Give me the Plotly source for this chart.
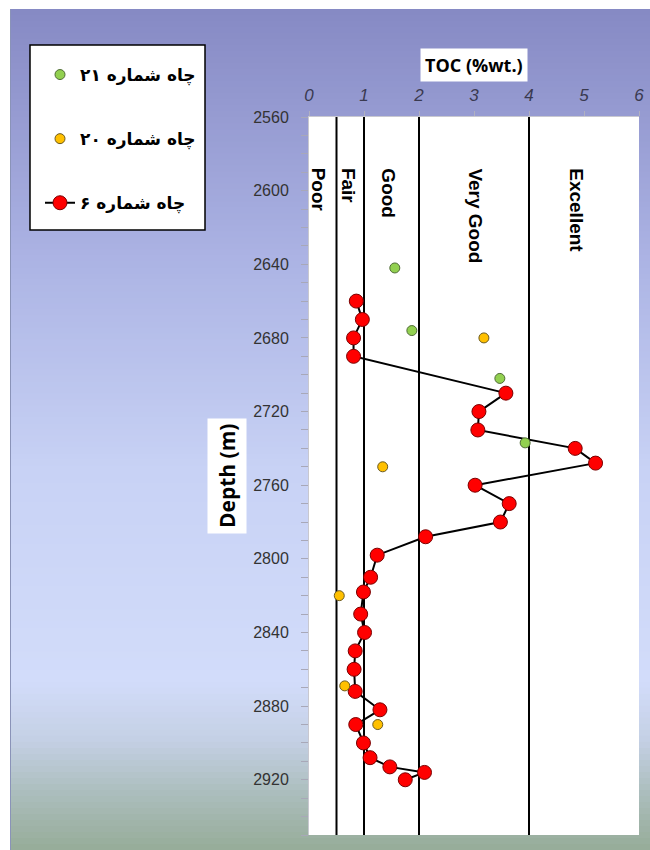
import numpy as np
import plotly.graph_objects as go

# Well 6 TOC profile
well6_depth = [2660, 2670, 2680, 2690, 2710, 2720, 2730, 2740, 2748, 2760, 2770, 2780,
               2788, 2798, 2810, 2818, 2830, 2840, 2850, 2860, 2872, 2882, 2890, 2900,
               2908, 2913, 2916, 2920]
well6_toc = [0.86, 0.97, 0.81, 0.81, 3.58, 3.09, 3.07, 4.84, 5.21, 3.02, 3.64, 3.48,
             2.12, 1.24, 1.12, 0.99, 0.94, 1.01, 0.84, 0.82, 0.84, 1.29, 0.85, 0.99,
             1.11, 1.47, 2.10, 1.75]

# Well 21 samples
well21_depth = [2642, 2676, 2702, 2737]
well21_toc = [1.56, 1.87, 3.47, 3.93]

# Well 20 samples
well20_depth = [2680, 2750, 2820, 2869, 2890]
well20_toc = [3.18, 1.34, 0.55, 0.65, 1.25]

# Source-rock quality classes (TOC boundaries)
class_bounds = [0.5, 1, 2, 4]
class_names = ["Poor", "Fair", "Good", "Very Good", "Excellent"]

x_ticks = [0, 1, 2, 3, 4, 5, 6]
y_label_ticks = [2560, 2600, 2640, 2680, 2720, 2760, 2800, 2840, 2880, 2920]
y_minor_step = 10

W, H = 650, 850
ml, mr, mt, mb = 309, 11, 117, 15
pw, ph = W - ml - mr, H - mt - mb


def px_x(p):
    return (p - ml) / pw


def px_y(p):
    return (H - mb - p) / ph


fig = go.Figure()
fig.add_trace(go.Scatter(
    x=well6_toc, y=well6_depth, mode="lines+markers", name="چاه شماره ۶",
    line=dict(color="black", width=2),
    marker=dict(size=14, color="#ff0000", line=dict(color="#7a0000", width=1)),
    legendrank=3,
))
fig.add_trace(go.Scatter(
    x=well20_toc, y=well20_depth, mode="markers", name="چاه شماره ۲۰",
    marker=dict(size=10, color="#ffc000", line=dict(color="#6b5a20", width=1)),
    legendrank=2,
))
fig.add_trace(go.Scatter(
    x=well21_toc, y=well21_depth, mode="markers", name="چاه شماره ۲۱",
    marker=dict(size=10, color="#92d050", line=dict(color="#4f6b35", width=1)),
    legendrank=1,
))
for i, tr in enumerate(fig.data):
    tr.legendgroup = f"g{i}"

# Background: white frame on top/left, vertical colour gradient elsewhere
stops = [(0.00, (134, 137, 196)), (0.30, (172, 180, 228)), (0.55, (200, 210, 245)),
         (0.80, (210, 220, 250)), (0.87, (196, 208, 228)), (0.93, (172, 190, 190)),
         (1.00, (150, 172, 152))]
pos = [s[0] for s in stops]
shapes = []
top_px, left_px = 9, 10
n_bands = 140
for i in range(n_bands):
    t = (i + 0.5) / n_bands
    rgb = [int(round(np.interp(t, pos, [s[1][k] for s in stops]))) for k in range(3)]
    y0 = top_px + (H - top_px) * i / n_bands
    y1 = min(H, top_px + (H - top_px) * (i + 1) / n_bands + 0.8)
    shapes.append(dict(type="rect", xref="paper", yref="paper", layer="below",
                       x0=px_x(left_px), x1=px_x(W), y0=px_y(y1), y1=px_y(y0),
                       line=dict(width=0), fillcolor=f"rgb({rgb[0]},{rgb[1]},{rgb[2]})"))
shapes.append(dict(type="line", xref="paper", yref="paper", layer="below",
                   x0=px_x(left_px + 0.5), x1=px_x(left_px + 0.5), y0=px_y(H), y1=px_y(top_px),
                   line=dict(width=1, color="#8a93b8")))

# Legend frame
shapes.append(dict(type="rect", xref="paper", yref="paper", layer="below",
                   x0=px_x(30), x1=px_x(205), y0=px_y(230), y1=px_y(45),
                   line=dict(width=1.5, color="black"), fillcolor="white"))

# White plotting area
shapes.append(dict(type="rect", xref="x domain", yref="y domain", layer="below",
                   x0=0, x1=1, y0=0, y1=1, line=dict(width=0), fillcolor="white"))
# Class boundary lines
for b in class_bounds:
    shapes.append(dict(type="line", xref="x", yref="y domain", layer="below",
                       x0=b, x1=b, y0=0, y1=1, line=dict(color="black", width=2)))

annotations = []
class_label_toc = [0.17, 0.72, 1.43, 3.02, 4.85]
for name, xv in zip(class_names, class_label_toc):
    annotations.append(dict(x=xv, y=px_y(166), xref="x", yref="paper",
                            text=f"<b>{name}</b>", textangle=90, showarrow=False,
                            xanchor="center", yanchor="top",
                            font=dict(family="Liberation Sans", size=19, color="black")))

annotations.append(dict(x=0.5, y=px_y(65), xref="x domain", yref="paper",
                        text="<b>TOC (%wt.)</b>", showarrow=False, bgcolor="white",
                        borderpad=4, xanchor="center", yanchor="middle",
                        font=dict(family="Open Sans", size=18, color="black")))
annotations.append(dict(x=px_x(227), xref="paper", y=0.5, yref="y domain",
                        text="<b>Depth (m)</b>", textangle=-90, showarrow=False,
                        bgcolor="white", borderpad=5, xanchor="center", yanchor="middle",
                        font=dict(family="Open Sans", size=21, color="black")))

y_all = list(range(y_label_ticks[0], 2951, y_minor_step))

fig.update_layout(
    width=W, height=H,
    margin=dict(l=ml, r=mr, t=mt, b=mb, autoexpand=False),
    paper_bgcolor="white", plot_bgcolor="white",
    shapes=shapes, annotations=annotations,
    showlegend=True,
    legend=dict(xref="container", yref="container", x=40 / W, y=1 - 57 / H,
                xanchor="left", yanchor="top", bgcolor="rgba(0,0,0,0)",
                borderwidth=0, tracegroupgap=39, traceorder="grouped",
                itemwidth=30,
                font=dict(family="DejaVu Sans", size=17, color="black", weight="bold")),
    xaxis=dict(side="top", range=[0, 6], tickmode="array", tickvals=x_ticks,
               ticks="outside", ticklen=5, tickcolor="#b0b0c0", showgrid=False,
               zeroline=False, showline=True, linecolor="#c8c8d0",
               ticklabelstandoff=3, automargin=False,
               tickfont=dict(family="Liberation Sans", size=17, color="#3a3a50",
                             style="italic")),
    yaxis=dict(range=[2950, 2560], tickmode="array", tickvals=y_all,
               ticktext=[str(v) if v in y_label_ticks else "" for v in y_all],
               ticks="outside", ticklen=7, tickcolor="#a8a8b8", showgrid=False,
               zeroline=False, showline=True, linecolor="#c8c8d0",
               ticklabelstandoff=9, automargin=False,
               tickfont=dict(family="Liberation Sans", size=16, color="#333333")),
)

fig.write_html("out.html")
